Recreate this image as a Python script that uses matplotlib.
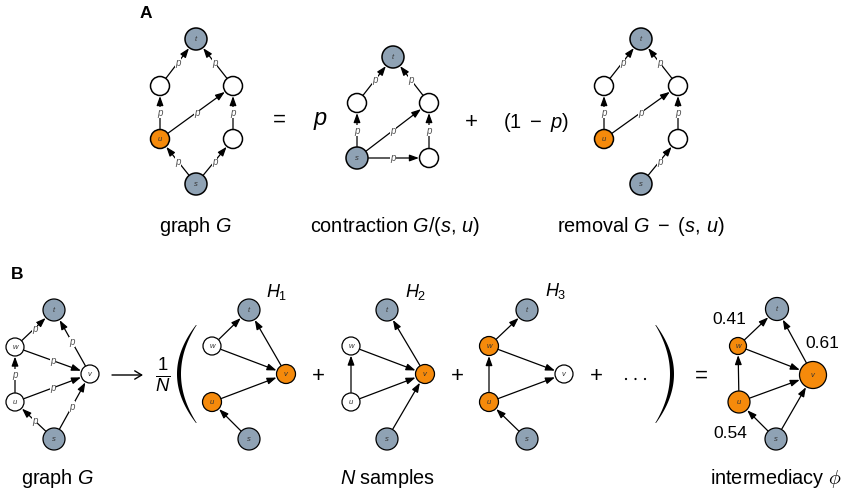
import numpy as np
import matplotlib
matplotlib.use('Agg')
import matplotlib.pyplot as plt
from matplotlib.patches import Circle, FancyArrowPatch, Polygon

plt.rcParams['font.family'] = ['Liberation Sans', 'DejaVu Sans']
plt.rcParams['mathtext.fontset'] = 'custom'
plt.rcParams['mathtext.rm'] = 'Liberation Sans'
plt.rcParams['mathtext.it'] = 'Liberation Sans:italic'
plt.rcParams['mathtext.bf'] = 'Liberation Sans:bold'
plt.rcParams['mathtext.sf'] = 'Liberation Sans'

GRAY = '#8fa2b4'
ORANGE = '#f58a0b'
WHITE = '#ffffff'

# ---------------- Panel A data ----------------
A_names = ['t', 'a', 'b', 'u', 'c', 's']
A_labels = ['t', '', '', 'u', '', 's']

G_x = [196, 160, 233, 160, 233, 196]
G_y = [39, 86, 86, 139, 139, 184]
G_colors = [GRAY, WHITE, WHITE, ORANGE, WHITE, GRAY]
G_edges = [('s', 'u'), ('s', 'c'), ('u', 'a'), ('u', 'b'), ('c', 'b'), ('a', 't'), ('b', 't')]

C_names = ['t', 'a', 'b', 's', 'c']
C_labels = ['t', '', '', 's', '']
C_x = [393, 357, 429, 357, 429]
C_y = [57, 103, 103, 158, 158]
C_colors = [GRAY, WHITE, WHITE, GRAY, WHITE]
C_edges = [('s', 'a'), ('s', 'b'), ('s', 'c'), ('c', 'b'), ('a', 't'), ('b', 't')]

R_x = [641, 604, 678, 604, 678, 641]
R_y = [39, 86, 86, 139, 139, 184]
R_colors = [GRAY, WHITE, WHITE, ORANGE, WHITE, GRAY]
R_edges = [('u', 'a'), ('u', 'b'), ('c', 'b'), ('s', 'c'), ('a', 't'), ('b', 't')]

# ---------------- Panel B data ----------------
B_names = ['t', 'w', 'v', 'u', 's']
BG_x = [54, 15, 90, 15, 54]
BG_y = [310, 347, 374, 402, 439]
BG_colors = [GRAY, WHITE, WHITE, WHITE, GRAY]
BG_edges = [('s', 'u'), ('s', 'v'), ('u', 'w'), ('u', 'v'), ('w', 'v'), ('w', 't'), ('v', 't')]

H1_x = [249, 212, 286, 212, 249]
H2_x = [387, 351, 425, 351, 387]
H3_x = [527, 489, 564, 489, 527]
H_y = [310, 346, 374, 402, 439]
H1_colors = [GRAY, WHITE, ORANGE, ORANGE, GRAY]
H2_colors = [GRAY, WHITE, ORANGE, WHITE, GRAY]
H3_colors = [GRAY, ORANGE, WHITE, ORANGE, GRAY]
H1_edges = [('w', 't'), ('w', 'v'), ('u', 'v'), ('s', 'u'), ('v', 't')]
H2_edges = [('v', 't'), ('w', 'v'), ('u', 'w'), ('u', 'v'), ('s', 'v')]
H3_edges = [('w', 't'), ('w', 'v'), ('u', 'w'), ('u', 'v'), ('s', 'u')]

F_x = [777, 738, 813, 739, 776]
F_y = [309, 346, 375, 402, 439]
F_colors = [GRAY, ORANGE, ORANGE, ORANGE, GRAY]
F_edges = [('w', 't'), ('w', 'v'), ('u', 'w'), ('u', 'v'), ('s', 'u'), ('s', 'v'), ('v', 't')]
phi_nodes = ['w', 'v', 'u']
phi_values = [0.41, 0.61, 0.54]

# ---------------- drawing ----------------
fig = plt.figure(figsize=(8.46, 4.98), dpi=100)
ax = fig.add_axes([0, 0, 1, 1])
ax.set_xlim(0, 846)
ax.set_ylim(498, 0)
ax.set_aspect('equal')
ax.axis('off')


def draw_graph(names, labels, xs, ys, colors, radii, edges, edge_labels, node_lw=0.9):
    pos = {n: (x, y) for n, x, y in zip(names, xs, ys)}
    rad = dict(zip(names, radii))
    for a, b in edges:
        (x1, y1), (x2, y2) = pos[a], pos[b]
        d = np.hypot(x2 - x1, y2 - y1)
        ux, uy = (x2 - x1) / d, (y2 - y1) / d
        p1 = (x1 + ux * (rad[a] + 0.5), y1 + uy * (rad[a] + 0.5))
        p2 = (x2 - ux * (rad[b] + 0.6), y2 - uy * (rad[b] + 0.6))
        arr = FancyArrowPatch(p1, p2, arrowstyle='-|>,head_length=0.55,head_width=0.2',
                              mutation_scale=10, lw=0.9, color='black',
                              shrinkA=0, shrinkB=0, zorder=2)
        ax.add_patch(arr)
        if edge_labels:
            ax.text((x1 + x2) / 2, (y1 + y2) / 2, 'p', fontsize=7, style='italic',
                    color='#555555', ha='center', va='center', zorder=3,
                    bbox=dict(facecolor='white', edgecolor='none', pad=0.2))
    for n, lab, x, y, c in zip(names, labels, xs, ys, colors):
        ax.add_patch(Circle((x, y), rad[n], facecolor=c, edgecolor='black',
                            lw=node_lw, zorder=4))
        if lab:
            ax.text(x, y, lab, fontsize=5.5, style='italic', color='#333333',
                    ha='center', va='center', zorder=5)


def paren(x_end, x_mid, yc, h, thick, zorder=3):
    t = np.linspace(-1, 1, 160)
    y = yc + h * t
    side = np.sign(x_end - x_mid)
    outer = x_end - (x_end - x_mid) * (1 - t ** 2)
    th = thick * (1 - t ** 2) + 0.7
    inner = outer + side * th
    verts = np.concatenate([np.column_stack([outer, y]),
                            np.column_stack([inner[::-1], y[::-1]])])
    ax.add_patch(Polygon(verts, closed=True, facecolor='black', edgecolor='none',
                         zorder=zorder))


rA = [11, 9.5, 9.5, 9.5, 9.5, 11]
draw_graph(A_names, A_labels, G_x, G_y, G_colors, rA, G_edges, True, node_lw=1.1)
draw_graph(C_names, C_labels, C_x, C_y, C_colors, [11, 9.5, 9.5, 11, 9.5], C_edges, True, node_lw=1.1)
draw_graph(A_names, A_labels, R_x, R_y, R_colors, rA, R_edges, True, node_lw=1.1)

rB = [11, 9, 9, 9, 11]
draw_graph(B_names, B_names, BG_x, BG_y, BG_colors, rB, BG_edges, True)
draw_graph(B_names, B_names, H1_x, H_y, H1_colors, [11, 9, 9.5, 9.5, 11], H1_edges, False)
draw_graph(B_names, B_names, H2_x, H_y, H2_colors, [11, 9, 9.5, 9, 11], H2_edges, False)
draw_graph(B_names, B_names, H3_x, H_y, H3_colors, [11, 9.5, 9, 9.5, 11], H3_edges, False)
draw_graph(B_names, B_names, F_x, F_y, F_colors, [11.5, 8.5, 13.5, 11, 11], F_edges, False)

# ---- Panel A text ----
ax.text(146, 13, 'A', fontsize=12.5, fontweight='bold', ha='center', va='center')
ax.text(279, 120, '=', fontsize=16, ha='center', va='center')
ax.text(320, 125, '$p$', fontsize=17, ha='center', va='baseline')
ax.text(471, 122, '+', fontsize=16, ha='center', va='center')
ax.text(536, 122, r'$(1\ -\ p)$', fontsize=14.5, ha='center', va='center')
cap = 14.3
ax.text(195, 226, 'graph $G$', fontsize=cap, ha='center', va='center')
ax.text(395, 226, r'contraction $G/(s,\,u)$', fontsize=cap, ha='center', va='center')
ax.text(641, 226, r'removal $G\ -\ (s,\,u)$', fontsize=cap, ha='center', va='center')

# ---- Panel B text ----
ax.text(17, 274, 'B', fontsize=12.5, fontweight='bold', ha='center', va='center')
ax.annotate('', xy=(143, 375), xytext=(112, 375),
            arrowprops=dict(arrowstyle='->,head_length=0.5,head_width=0.3', lw=1.0,
                            color='black', shrinkA=0, shrinkB=0))
ax.text(163, 376, r'$\frac{1}{N}$', fontsize=19, ha='center', va='center')
paren(196, 177, 374, 49, 3.3)
paren(656, 674, 374, 49, 3.3)
for xp in [318, 457, 596]:
    ax.text(xp, 376, '+', fontsize=16, ha='center', va='center')
ax.text(701, 376, '=', fontsize=16, ha='center', va='center')
for xd in [626, 635.5, 645]:
    ax.add_patch(Circle((xd, 379), 1.1, facecolor='black', edgecolor='none'))
ax.text(266, 292, '$H_1$', fontsize=13, ha='left', va='center')
ax.text(405, 292, '$H_2$', fontsize=13, ha='left', va='center')
ax.text(545, 291, '$H_3$', fontsize=13, ha='left', va='center')

phi_pos = {'w': (729, 319), 'v': (822, 343), 'u': (730, 433)}
for n, v in zip(phi_nodes, phi_values):
    ax.text(*phi_pos[n], f'{v:.2f}', fontsize=12.5, ha='center', va='center')

ax.text(57, 478, 'graph $G$', fontsize=cap, ha='center', va='center')
ax.text(388, 478, '$N$ samples', fontsize=cap, ha='center', va='center')
ax.text(776, 478, r'intermediacy $\phi$', fontsize=cap, ha='center', va='center',
        math_fontfamily='cm')

fig.savefig('out.png', dpi=100)
